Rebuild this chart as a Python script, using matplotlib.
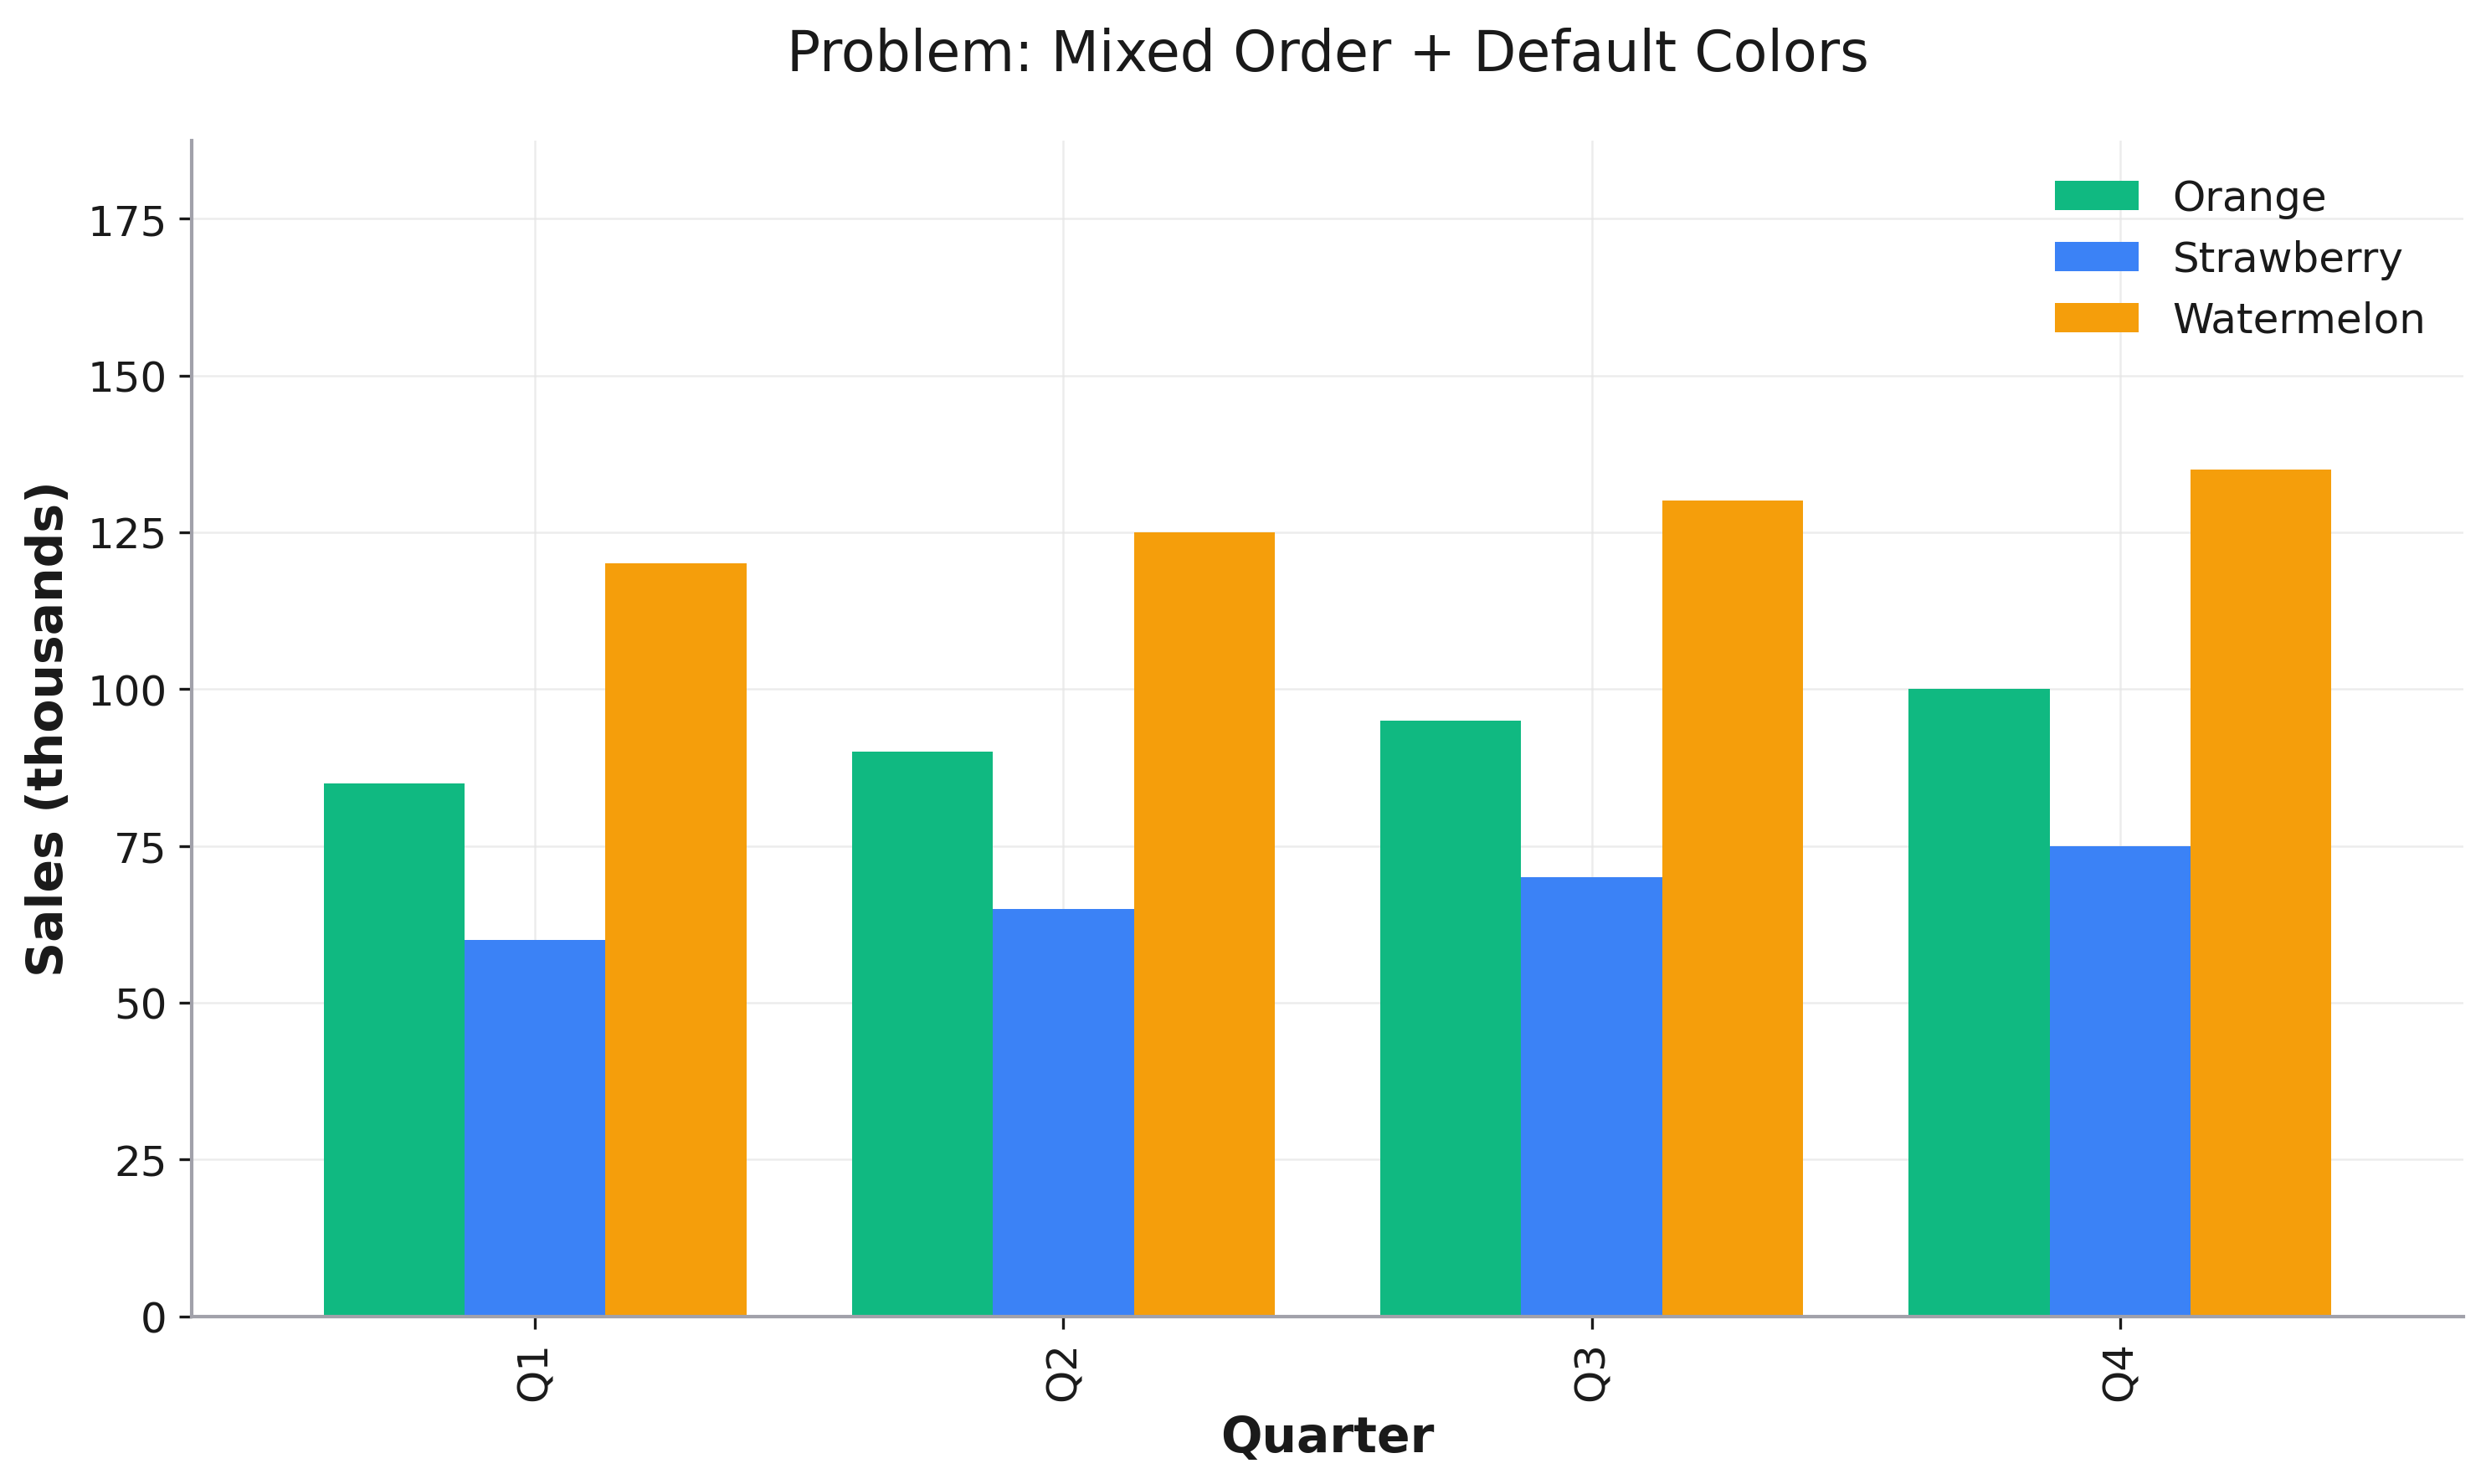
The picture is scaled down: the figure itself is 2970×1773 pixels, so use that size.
import matplotlib.pyplot as plt
import numpy as np

quarters = ['Q1', 'Q2', 'Q3', 'Q4']
orange = [85, 90, 95, 100]
strawberry = [60, 65, 70, 75]
watermelon = [120, 125, 130, 135]

series = [('Orange', orange, '#10B981'),
          ('Strawberry', strawberry, '#3B82F6'),
          ('Watermelon', watermelon, '#F59E0B')]

plt.rcParams['text.color'] = '#1A1A1A'
plt.rcParams['axes.labelcolor'] = '#1A1A1A'
plt.rcParams['xtick.color'] = '#1A1A1A'
plt.rcParams['ytick.color'] = '#1A1A1A'

fig, ax = plt.subplots(figsize=(9.9, 5.913), dpi=300)
fig.subplots_adjust(left=0.077, right=0.991, bottom=0.113, top=0.905)

x = np.arange(len(quarters))
width = 0.8 / 3
for i, (name, vals, color) in enumerate(series):
    ax.bar(x + (i - 1) * width, vals, width, label=name, color=color, zorder=2)

ax.set_xticks(x)
ax.set_xticklabels(quarters, rotation=90, fontsize=12)
ax.tick_params(axis='y', labelsize=12)
ax.set_xlim(-0.65, 3.65)
ax.set_ylim(0, 187.5)

ax.set_xlabel('Quarter', fontsize=14, fontweight='bold')
ax.set_ylabel('Sales (thousands)', fontsize=14, fontweight='bold')
ax.set_title('Problem: Mixed Order + Default Colors', fontsize=16, pad=20)

ax.grid(True, color='#E5E5E5', linewidth=0.6, alpha=0.7, zorder=0)
ax.spines['top'].set_visible(False)
ax.spines['right'].set_visible(False)
for s in ['left', 'bottom']:
    ax.spines[s].set_color('#A1A1AA')
    ax.spines[s].set_linewidth(1.0)

ax.legend(frameon=False, fontsize=12, loc='upper right')

plt.savefig('out.png', dpi=300)
